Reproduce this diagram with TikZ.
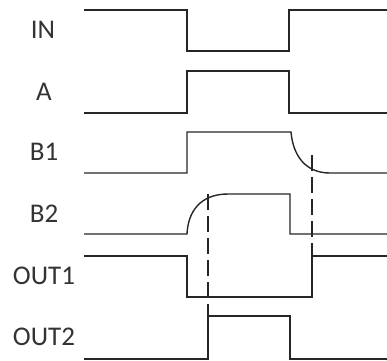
\documentclass[tikz,border=0pt]{standalone}
\usepackage{fontspec}
\setmainfont{Carlito}
\usepackage{tikz}
\usetikzlibrary{positioning,calc}
\tikzset{every picture/.style={thick}}
\tikzset{wave/.style={line width=1.4pt,black!85,line join=miter}}
\tikzset{marker lines/.style={line width=1.3pt,black!85,dash pattern=on 16pt off 6pt}}
\tikzset{signal name/.style={font=\fontsize{27}{31}\selectfont,text=black!80,inner sep=0pt}}

\begin{document}
\begin{tikzpicture}[x=1pt,y=-1pt]
      \useasboundingbox (0,0) rectangle (387,360);
      % signal names
      \node [signal name] (in) at (43,30) {IN};
      \node [signal name] (a) at (44,92) {A};
      \node [signal name] (b1) at (44,152) {B1};
      \node [signal name] (b2) at (44,214) {B2};
      \node [signal name] (out1) at (44,276) {OUT1};
      \node [signal name] (out2) at (44,337) {OUT2};
      % waveforms
      \draw [wave] (84,10) -- (187,10) -- (187,51) -- (289,51) -- (289,10) -- (387,10);
      \draw [wave] (84,113) -- (187,113) -- (187,71) -- (289,71) -- (289,113) -- (387,113);
      \draw [wave] (84,173) -- (187,173) -- (187,132) -- (291,132)
            .. controls (293,155) and (305,173) .. (330,173) -- (387,173);
      \draw [wave] (84,234) -- (187,234)
            .. controls (188,212) and (200,194) .. (228,194) -- (290,194) -- (290,234) -- (387,234);
      \draw [wave] (84,256) -- (187,256) -- (187,297) -- (312,297) -- (312,256) -- (387,256);
      \draw [wave] (84,359) -- (208,359) -- (208,316) -- (290,316) -- (290,359) -- (387,359);
      % thresholds
      \draw [marker lines] (312,155) -- (312,256);
      \draw [marker lines] (208,194) -- (208,316);
    \end{tikzpicture}
\end{document}
